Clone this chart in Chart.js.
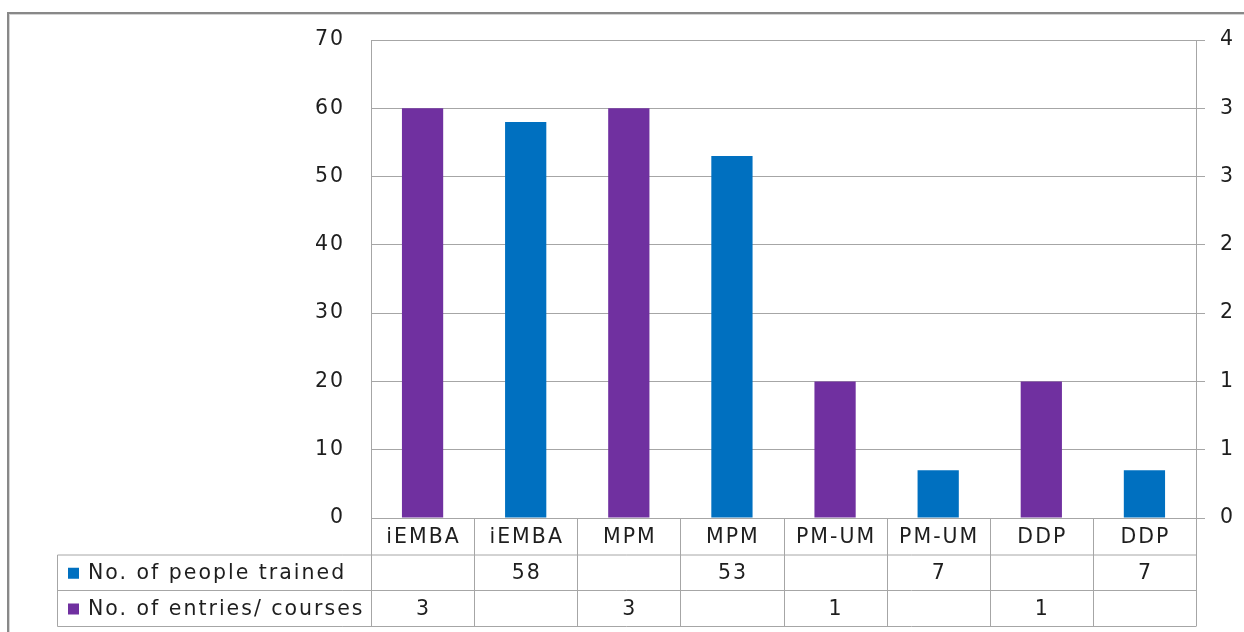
<!DOCTYPE html>
<html>
<head>
<meta charset="utf-8">
<script src="https://cdn.jsdelivr.net/npm/chart.js@4.4.1/dist/chart.umd.min.js"></script>
<style>
    html, body { margin: 0; padding: 0; background: #fff; }
    #wrap { width: 1244px; height: 632px; position: relative; }
</style>
</head>
<body>
<div id="wrap"><canvas id="myChart"></canvas></div>
<script>
const categories = ['iEMBA', 'iEMBA', 'MPM', 'MPM', 'PM-UM', 'PM-UM', 'DDP', 'DDP'];
const peopleTrained = [null, 58, null, 53, null, 7, null, 7];
const entriesCourses = [3, null, 3, null, 1, null, 1, null];
const seriesNames = ['No. of people trained', 'No. of entries/ courses'];
const seriesColors = ['#0070c0', '#7030a0'];

const FONT = '"DejaVu Sans", Verdana, sans-serif';
const LINE = '#a6a6a6';
const TEXT = '#1e1e1e';
const LS = '2px';

/* letter spacing so the text is as wide as in the picture */
const spacing = {
    id: 'spacing',
    beforeLayout(chart) { chart.ctx.letterSpacing = LS; },
    beforeDraw(chart) { chart.ctx.letterSpacing = LS; }
};

/* frame + data table under the plot */
const dataTable = {
    id: 'dataTable',
    afterDraw(chart) {
        const ctx = chart.ctx;
        const x = chart.scales.x;
        const area = chart.chartArea;
        const half = (x.getPixelForValue(1) - x.getPixelForValue(0)) / 2;
        const first = x.getPixelForValue(0) - half;
        const rowY = [area.bottom, 555, 590.5, 626.5];
        const tableLeft = 57.5;

        ctx.save();
        ctx.letterSpacing = LS;

        // outer frame
        ctx.strokeStyle = '#888888';
        ctx.lineWidth = 2;
        ctx.strokeRect(8, 13, 1400, 800);
        ctx.strokeStyle = '#d4d4d4';
        ctx.lineWidth = 1;
        ctx.strokeRect(9.5, 14.5, 1400, 800);

        ctx.strokeStyle = LINE;
        ctx.lineWidth = 1;
        ctx.beginPath();
        // horizontal rows
        for (let r = 1; r < rowY.length; r++) {
            ctx.moveTo(tableLeft, rowY[r]);
            ctx.lineTo(area.right, rowY[r]);
        }
        ctx.moveTo(tableLeft, rowY[1]);
        ctx.lineTo(tableLeft, rowY[3]);
        // category separators
        for (let i = 0; i <= categories.length; i++) {
            const bx = Math.round(first + i * 2 * half) + 0.5;
            ctx.moveTo(bx, rowY[0]);
            ctx.lineTo(bx, rowY[3]);
        }
        ctx.stroke();

        ctx.fillStyle = TEXT;
        ctx.font = '20.5px ' + FONT;
        ctx.textAlign = 'center';
        ctx.textBaseline = 'middle';
        categories.forEach((c, i) => {
            const cx = x.getPixelForValue(i) + 1;
            ctx.fillText(c, cx, (rowY[0] + rowY[1]) / 2 + 1);
            if (peopleTrained[i] !== null) {
                ctx.fillText(String(peopleTrained[i]), cx, (rowY[1] + rowY[2]) / 2 + 1);
            }
            if (entriesCourses[i] !== null) {
                ctx.fillText(String(entriesCourses[i]), cx, (rowY[2] + rowY[3]) / 2 + 1);
            }
        });

        // legend keys in the first column
        ctx.textAlign = 'left';
        seriesNames.forEach((name, r) => {
            const cy = (rowY[r + 1] + rowY[r + 2]) / 2;
            ctx.fillStyle = seriesColors[r];
            ctx.fillRect(68, cy - 5, 11, 11);
            ctx.fillStyle = TEXT;
            ctx.fillText(name, 88, cy + 1);
        });
        ctx.restore();
    }
};

const ctx = document.getElementById('myChart');

new Chart(ctx, {
    type: 'bar',
    data: {
        labels: categories,
        datasets: [{
            label: seriesNames[0],
            data: peopleTrained,
            yAxisID: 'y',
            backgroundColor: seriesColors[0],
            grouped: false
        },
        {
            label: seriesNames[1],
            data: entriesCourses,
            yAxisID: 'y1',
            backgroundColor: seriesColors[1],
            grouped: false
        }]
    },
    options: {
        responsive: true,
        maintainAspectRatio: false,
        animation: false,
        categoryPercentage: 1,
        barPercentage: 0.4,
        layout: {
            padding: { left: 0, right: 0, top: 40, bottom: 0 }
        },
        plugins: {
            legend: { display: false },
            title: { display: false },
            tooltip: { enabled: false }
        },
        scales: {
            x: {
                ticks: { display: false },
                grid: { display: false },
                border: { display: false },
                afterFit: (axis) => { axis.height = 114; }
            },
            y: {
                position: 'left',
                min: 0,
                max: 70,
                ticks: {
                    stepSize: 10,
                    padding: 26,
                    color: TEXT,
                    font: { family: FONT, size: 20.5 }
                },
                grid: { color: LINE, drawTicks: false },
                border: { color: LINE },
                afterFit: (axis) => { axis.width = 371; }
            },
            y1: {
                position: 'right',
                min: 0,
                max: 3.5,
                ticks: {
                    stepSize: 0.5,
                    padding: 15,
                    color: TEXT,
                    font: { family: FONT, size: 20.5 },
                    callback: (v) => Math.round(v)
                },
                grid: { color: LINE, drawOnChartArea: false, tickLength: 9 },
                border: { color: LINE },
                afterFit: (axis) => { axis.width = 48; }
            }
        }
    },
    plugins: [spacing, dataTable]
});
</script>
</body>
</html>
